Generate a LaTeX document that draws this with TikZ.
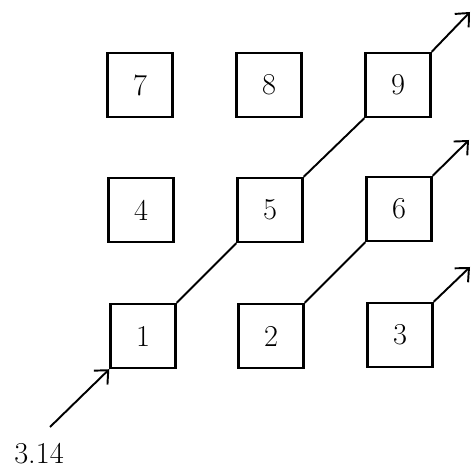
\documentclass[tikz,border=0pt]{standalone}
\usetikzlibrary{arrows.meta}

\begin{document}
\begin{tikzpicture}[x=0.02cm, y=0.02cm,
    cell/.style={draw, line width=1.4pt, minimum width=1.3cm, minimum height=1.28cm, inner sep=0pt, font=\LARGE},
    link/.style={line width=1.1pt},
    exit/.style={line width=1.1pt, -{Straight Barb[length=6pt,width=11pt,line width=1.1pt]}}]
    \useasboundingbox (0,0) rectangle (472,474);
    \node[cell] (b7) at (140,389) {7};
    \node[cell] (b8) at (269,389) {8};
    \node[cell] (b9) at (398,389) {9};
    \node[cell] (b4) at (141,264) {4};
    \node[cell] (b5) at (270,264) {5};
    \node[cell] (b6) at (399,265) {6};
    \node[cell] (b1) at (143,138) {1};
    \node[cell] (b2) at (271,138) {2};
    \node[cell] (b3) at (400,139) {3};
    \node[font=\LARGE] (val) at (39,20) {3.14};
    \coordinate (start) at (50,47);
    \coordinate (endA) at (470,462);
    \coordinate (endB) at (469,334);
    \coordinate (endC) at (470,207);
    \draw[exit] (start) -- (b1.south west);
    \draw[link] (b1.north east) -- (b5.south west);
    \draw[link] (b5.north east) -- (b9.south west);
    \draw[link] (b2.north east) -- (b6.south west);
    \draw[exit] (b9.north east) -- (endA);
    \draw[exit] (b6.north east) -- (endB);
    \draw[exit] (b3.north east) -- (endC);
\end{tikzpicture}
\end{document}
